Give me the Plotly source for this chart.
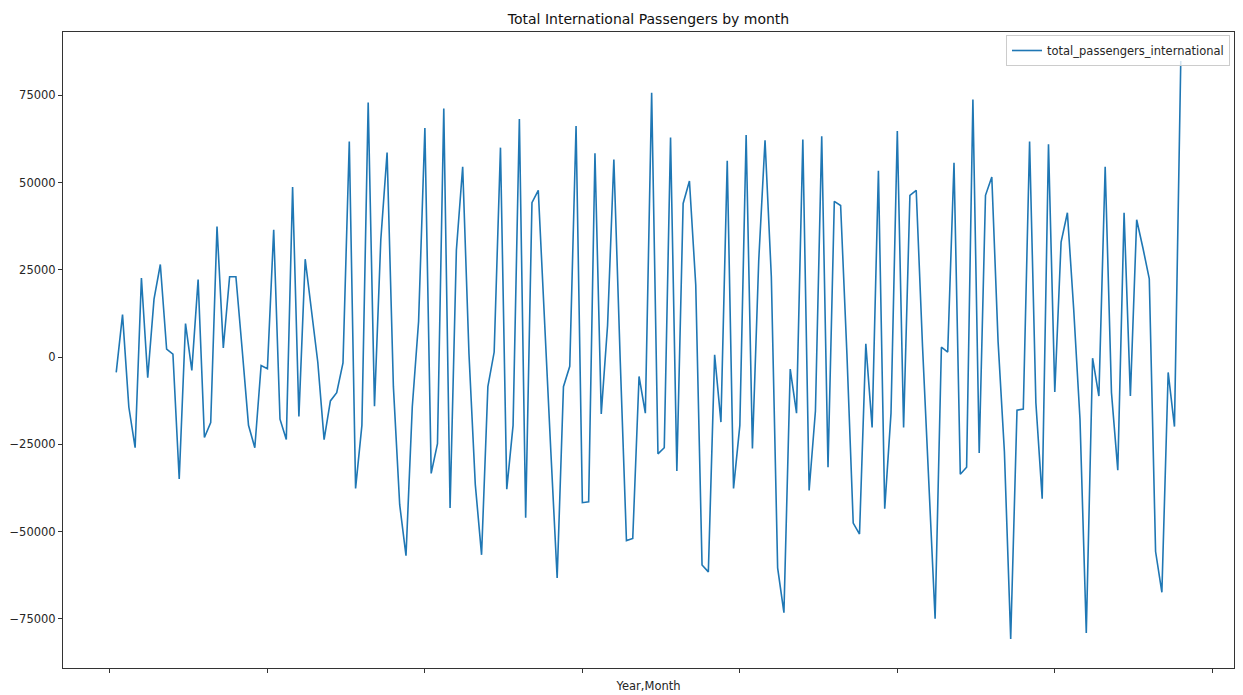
import plotly.graph_objects as go

# ---- data ----
series_name = "total_passengers_international"
chart_title = "Total International Passengers by month"
x_title = "Year,Month"

# position of each (Year, Month) row in the index; row 0 is empty (first difference)
month_index = list(range(1, 171))

passengers_diff = [
    -4397, 12175, -14316, -25986, 22678, -5914, 16610, 26529, 2255, 855, -34972, 9608, -3813, 22211, -23069, -18751, 37382, 2605,
    23028, 23028, 2022, -19568, -25986, -2413, -3347, 36448, -17817, -23652, 48702, -17000, 28046, 14000, -1479, -23652, -12566, -10232, -1713,
    61772, -37656, -19568, 72976, -14083, 33531, 58621, -8481, -42324, -56911, -14316, 10191, 65623, -33338, -24819, 71225, -43258, 30614, 54537,
    855, -36489, -56678, -8481, 1438, 60022, -37889, -19568, 68191, -46058, 44268, 47768, 9024, -27153, -63330, -8481, -2646, 66207, -41741,
    -41508, 58388, -16300, 9024, 56638, -315, -52594, -52011, -5564, -16066, 75776, -27736, -25986, 62939, -32638, 44034, 50453, 20694, -59596,
    -61580, 621, -18634, 56288, -37656, -19568, 63640, -26219, 27696, 62123, 23028, -60413, -73250, -3463, -16066, 62356, -38240, -15483, 63290,
    -31588, 44617, 43450, 855, -47574, -50725, 3773, -20151, 53370, -43491, -16066, 64807, -20151, 46368, 47768, 3188, -35322, -75000, 2839,
    1438, 55704, -33571, -31588, 73792, -27503, 46368, 51620, 4356, -27153, -80835, -15250, -14900, 61772, -13150, -40574, 60955, -9999, 32947,
    41350, 13692, -17817, -79085, -315, -11167, 54537, -10232, -32405, 41350, -11167, 39366, 31197, 22445, -55745, -67415, -4397, -19918, 84879,
]

y_tick_values = [-75000, -50000, -25000, 0, 25000, 50000, 75000]
y_tick_labels = ["\u221275000", "\u221250000", "\u221225000", "0", "25000", "50000", "75000"]
x_tick_values = [0, 25, 50, 75, 100, 125, 150, 175]

# ---- axis ranges with matplotlib-like 5% margins ----
xmin, xmax = min(month_index), max(month_index)
xpad = 0.05 * (xmax - xmin)
ymin, ymax = min(passengers_diff), max(passengers_diff)
ypad = 0.05 * (ymax - ymin)

FONT = "DejaVu Sans"
# the page body adds an 8px offset on the left/top, so the figure is 8px smaller
W, H = 1235, 687
L, R, T, B = 55, 9, 24, 27
PW, PH = W - L - R, H - T - B

fig = go.Figure()
fig.add_trace(go.Scatter(
    x=month_index, y=passengers_diff, mode="lines", name=series_name,
    line=dict(color="#1f77b4", width=1.6),
    showlegend=True,
))

fig.update_layout(
    width=W, height=H,
    margin=dict(l=L, r=R, t=T, b=B, autoexpand=False),
    paper_bgcolor="white", plot_bgcolor="white",
    font=dict(family=FONT, size=11.5, color="#262626"),
    title=dict(text=chart_title, x=0.5, xref="paper", xanchor="center",
               y=1 - 11.5 / H, yref="container", yanchor="middle",
               font=dict(family=FONT, size=14, color="#111")),
    showlegend=True,
    legend=dict(x=1 - 4 / PW, y=1 - 3 / PH, xanchor="right", yanchor="top",
                bgcolor="rgba(255,255,255,0.8)", bordercolor="#cccccc", borderwidth=1,
                font=dict(family=FONT, size=11.5, color="#262626"),
                itemwidth=30, tracegroupgap=0),
    xaxis=dict(range=[xmin - xpad, xmax + xpad], tickmode="array", tickvals=x_tick_values,
               ticktext=[""] * len(x_tick_values), ticks="outside", ticklen=4, tickcolor="#333",
               showgrid=False, zeroline=False, showline=True, mirror=True, linecolor="#333", linewidth=1,
               title=dict(text=x_title, standoff=7, font=dict(family=FONT, size=11.5, color="#262626"))),
    yaxis=dict(range=[ymin - ypad, ymax + ypad], tickmode="array", tickvals=y_tick_values,
               ticktext=y_tick_labels, ticks="outside", ticklen=4, tickcolor="#333",
               showgrid=False, zeroline=False, showline=True, mirror=True, linecolor="#333", linewidth=1,
               tickfont=dict(family=FONT, size=11.5, color="#262626")),
)

fig.write_html("out.html")
